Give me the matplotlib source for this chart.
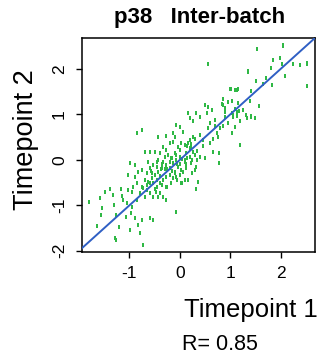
import matplotlib
matplotlib.use("Agg")
import matplotlib.pyplot as plt

plt.rcParams['font.family'] = ['Liberation Sans', 'DejaVu Sans']

title = "p38   Inter-batch"
xlabel = "Timepoint 1"
ylabel = "Timepoint 2"
r_text = "R= 0.85"
xticks = [-1, 0, 1, 2]
yticks = [-2, -1, 0, 1, 2]

# timepoint 1 values (x)
tp1 = [
    2.05, 1.54, 1.84, 1.99, 2.02, 1.80, 2.24, 2.38, 2.53, 2.53, 2.09, 1.36, 1.51, 1.71, 1.66,
    1.82, 1.41, 0.99, 1.09, 1.16, 0.86, 0.96, 1.03, 0.83, 0.90, 1.16, 1.39, 1.09, 1.18, 1.03,
    1.06, 1.13, 1.33, 1.41, 1.49, 1.58, 0.86, 1.09, 1.03, 0.56, 2.05, 2.52, 1.35, 1.01, 1.13,
    -0.86, -0.76, -0.43, -0.28, -0.13, -0.10, -0.07, 0.00, 0.07, 0.17, 0.20, 0.27, 0.33, 0.40,
    0.50, 0.56, 0.53, 0.63, 0.70, 0.73, 0.76, 0.86, 0.89, 1.03, 1.19, 1.06, 1.13, 1.31, 1.42,
    1.58, 0.66, 0.78, 0.78, 0.40, 0.50, 0.20, 0.27, 0.40, 0.46, 0.60,
    -0.70, -0.63, -0.60, -0.50, -0.43, -0.40, -0.33, -0.27, -0.23, -0.20, -0.13, -0.03, 0.03,
    0.10, 0.17, 0.23, 0.27, 0.30, 0.20, 0.13, 0.00, -0.07, -0.13, -0.03, 0.03, -0.10, -0.20,
    -0.27, -0.33, -0.36, -0.43, -0.50, -0.56, -0.63, -0.70, -0.76, -0.83, -0.53, -0.46, -0.40,
    -0.33, -0.27, -0.20, -0.13, -0.07, 0.00, 0.07, 0.13, 0.17, 0.10, -0.40, -0.43, -0.33, -0.27,
    -0.53, -0.60, -0.66, -0.73, -0.70, -0.80, -0.86, -0.93, -0.89, -0.66, -0.60, -0.53, -0.46,
    -0.30, -0.17, -0.10, 0.00, 0.10, 0.23, 0.30, 0.36, 0.33, -0.07, -0.60, -0.54,
    -1.80, -1.64, -1.56, -1.49, -1.39, -1.59, -1.54, -1.33, -1.31, -1.26, -1.21, -1.16, -1.13,
    -1.06, -1.03, -0.99, -0.96, -0.94, -0.89, -0.86, -0.84, -0.80, -0.76, -0.74, -1.03, -0.99,
    -0.89, -1.29, -1.27,
    -0.05, 0.05, -0.15, -0.25, -0.35, 0.15, 0.25, -0.45, -0.55, 0.35, 0.45, -0.65, -0.75,
    -0.20, -0.10, 0.00, 0.10, -0.30, -0.40, 0.20, -0.50, 0.30, -0.60, -0.15, 0.05, -0.05,
    -0.25, 0.15, -0.35, 0.25, -0.45, 0.35, 0.55, 0.65, -1.05, -1.15, -0.95, 0.60, 0.70, 0.80,
    0.95, 0.90, 1.20, 1.25, -0.58, -0.48, -0.38, -0.28, -0.18, -0.08, 0.02, 0.12, 0.22, 0.32,
]
# timepoint 2 values (y)
tp2 = [
    2.52, 2.44, 2.20, 2.24, 2.10, 2.02, 2.10, 2.08, 2.11, 1.62, 1.84, 1.95, 1.74, 1.80, 1.66,
    1.64, 1.52, 1.56, 1.53, 1.55, 1.33, 1.27, 1.29, 1.22, 1.14, 1.26, 1.29, 1.11, 1.07, 1.03,
    0.94, 0.96, 0.92, 0.96, 0.92, 1.18, 0.74, 0.72, 0.58, 2.11, 2.50, 2.13, 1.93, 1.56, 1.54,
    0.59, 0.66, 0.50, 0.53, 0.59, 0.51, 0.77, 0.73, 0.62, 1.03, 0.92, 0.86, 1.03, 0.95,
    1.21, 1.17, 1.03, 1.10, 0.88, 0.59, 0.51, 1.21, 0.95, 0.59, 0.33, 0.99, 1.06, 0.99, 0.95,
    1.19, 0.18, 0.15, -0.07, 0.07, 0.04, 0.44, 0.51, 0.55, 0.44, 0.37,
    0.18, -0.04, 0.18, 0.18, 0.00, 0.15, 0.29, 0.22, 0.11, 0.37, 0.40, 0.29, 0.37,
    0.33, 0.37, 0.26, 0.18, 0.11, 0.07, 0.15, 0.07, 0.00, -0.07, -0.15, -0.22, -0.26, -0.18,
    -0.11, -0.04, -0.18, -0.26, -0.33, -0.40, -0.48, -0.44, -0.22, -0.26, -0.51, -0.59, -0.51,
    -0.44, -0.37, -0.33, -0.40, -0.37, -0.33, -0.26, -0.18, -0.44, -0.44, -0.73, -0.81, -0.81, -0.88,
    -0.81, -0.73, -0.66, -0.62, -0.81, -0.73, -0.51, -0.59, -0.37, -0.29, -0.18, -0.11, -0.15,
    0.07, 0.04, 0.15, 0.22, 0.00, -0.07, -0.22, -0.48, -0.64, -1.14, -1.28, -1.32,
    -0.92, -1.45, -1.21, -0.70, -0.64, -0.84, -1.06, -0.77, -0.99, -1.21, -1.47, -0.64, -0.88,
    -1.25, -0.66, -1.54, -1.17, -1.03, -1.28, -0.88, -1.43, -1.61, -1.32, -1.87, -0.33, -0.07,
    -0.11, -1.72, -1.77,
    -0.10, 0.02, -0.25, -0.20, -0.55, 0.05, 0.00, -0.45, -0.30, 0.20, 0.30, -0.55, -0.60,
    -0.05, -0.30, -0.10, -0.05, -0.20, -0.35, 0.25, -0.65, 0.45, -0.50, 0.05, -0.50, -0.45,
    -0.60, 0.30, -0.10, -0.30, -0.05, 0.00, 0.70, 0.45, -0.95, -0.80, -0.70, 0.80, 0.75, 0.70,
    0.80, 1.05, 0.85, 1.10, -0.25, -0.70, -0.20, -0.60, -0.50, 0.10, -0.50, -0.10, 0.35, -0.15,
]

fig = plt.figure(figsize=(3.2, 3.58), dpi=100)
ax = fig.add_axes([0.255, 0.297, 0.729, 0.598])

rect = [(-0.5, -1.0), (0.5, -1.0), (0.5, 1.0), (-0.5, 1.0)]
ax.scatter(tp1, tp2, marker=rect, s=11, color='#2fb845', linewidths=0, zorder=2)

ax.set_xlim(-1.95, 2.68)
ax.set_ylim(-2.02, 2.69)
lo, hi = -1.95, 2.69
ax.plot([lo, hi], [lo, hi], color='#2f5fc4', lw=1.4, zorder=3)

ax.set_xticks(xticks)
ax.set_yticks(yticks)
ax.set_xticklabels([str(t) for t in xticks], fontsize=12.5)
ax.set_yticklabels([str(t) for t in yticks], fontsize=12.5, rotation=90, va='center')
ax.tick_params(direction='out', length=4.5, width=1)
ax.tick_params(axis='x', pad=6)
ax.tick_params(axis='y', pad=6)
for s in ax.spines.values():
    s.set_linewidth(1.1)

fig.text(200/320, 1 - 17/358, title, ha='center', va='center', fontsize=16, fontweight='bold')
fig.text(26/320, 1 - 140/358, ylabel, ha='center', va='center', rotation=90, fontsize=19.5)
fig.text(318/320, 1 - 310/358, xlabel, ha='right', va='center', fontsize=18.5)
fig.text(182/320, 1 - 344/358, r_text, ha='left', va='center', fontsize=15.5)

fig.savefig('out.png', dpi=100)
